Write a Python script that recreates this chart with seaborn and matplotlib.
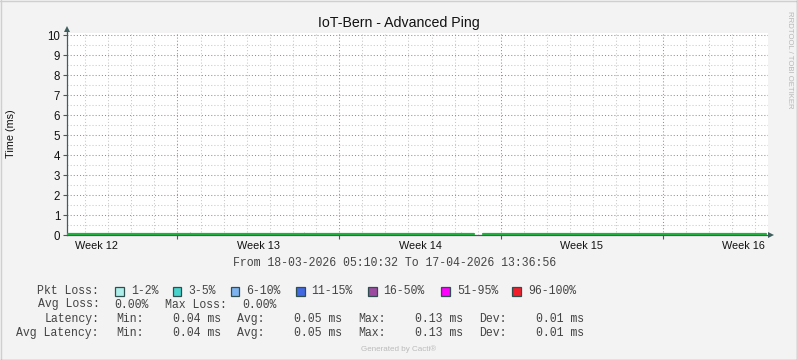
import numpy as np
import pandas as pd
import matplotlib
matplotlib.use("Agg")
import matplotlib.pyplot as plt
import matplotlib.dates as mdates
from matplotlib.patches import Rectangle
from matplotlib.lines import Line2D
from matplotlib.ticker import FixedLocator, NullFormatter
import seaborn as sns

# ---------------- data ----------------
title = "IoT-Bern - Advanced Ping"
range_start = "2026-03-18 05:10:32"
range_end = "2026-04-17 13:36:56"

lat_times = ["2026-03-18 05:10", "2026-04-04 20:30", "2026-04-05 05:00", "2026-04-17 11:25"]
lat_values = [0.05, 0.05, 0.05, 0.05]
lat_segment = [0, 0, 1, 1]

spike_times = ["2026-03-23 13:05", "2026-03-25 22:30", "2026-03-28 11:40", "2026-03-30 17:55",
               "2026-04-02 15:30", "2026-04-04 06:10", "2026-04-15 23:00"]
spike_values = [0.13, 0.12, 0.13, 0.12, 0.12, 0.13, 0.12]

week_label_dates = ["2026-03-19 12:00", "2026-03-26 12:00", "2026-04-02 12:00",
                    "2026-04-09 12:00", "2026-04-16 12:00"]
week_labels = ["Week 12", "Week 13", "Week 14", "Week 15", "Week 16"]

loss_labels = ["1-2%", "3-5%", "6-10%", "11-15%", "16-50%", "51-95%", "96-100%"]
loss_colors = ["#AEEEEA", "#48D4CC", "#7DB4F0", "#4169E1", "#9B4CA0", "#FF00FF", "#F21E2C"]

avg_loss = "0.00%"
max_loss = "0.00%"
lat_stats = ["0.04 ms", "0.05 ms", "0.13 ms", "0.01 ms"]
avglat_stats = ["0.04 ms", "0.05 ms", "0.13 ms", "0.01 ms"]

# ---------------- style ----------------
sns.set_style("white")
plt.rcParams["font.family"] = ["Liberation Sans", "DejaVu Sans"]

W, H = 797, 360
fig = plt.figure(figsize=(W / 100, H / 100), dpi=100)
fig.patch.set_facecolor("#F3F3F3")

ax = fig.add_axes([67 / W, 1 - 235 / H, (768 - 67) / W, (235 - 33) / H])
ax.set_facecolor("white")

axis_col = "#3F5F5F"
df = pd.DataFrame({"time": pd.to_datetime(lat_times), "lat": lat_values, "seg": lat_segment})
sns.lineplot(data=df, x="time", y="lat", units="seg", estimator=None, ax=ax,
             color="#1EAF3C", linewidth=1.6, zorder=5, legend=False)

sp = pd.DataFrame({"time": pd.to_datetime(spike_times), "v": spike_values})
ax.vlines(sp["time"], 0.05, sp["v"], color="#BBBBBB", linewidth=0.8, zorder=4)

t0, t1 = pd.Timestamp(range_start), pd.Timestamp(range_end)
ax.set_xlim(t0, t1)
ax.set_ylim(0, 10.1)

# grid
days = pd.date_range(t0.normalize() + pd.Timedelta(days=1), t1, freq="D")
mondays = [d for d in days if d.weekday() == 0]
others = [d for d in days if d.weekday() != 0]
dot = (0, (1, 2))
for d in others:
    ax.axvline(d, color="#C8C8C8", linewidth=0.75, linestyle=dot, zorder=1)
for d in mondays:
    ax.axvline(d, color="#E27070", linewidth=0.75, linestyle=dot, zorder=2)
for v in np.arange(0.5, 10, 1.0):
    ax.axhline(v, color="#C8C8C8", linewidth=0.75, linestyle=dot, zorder=1)
for v in range(1, 11):
    ax.axhline(v, color="#E27070", linewidth=0.75, linestyle=dot, zorder=2)

# ticks
ax.xaxis.set_major_locator(FixedLocator(mdates.date2num(mondays)))
ax.xaxis.set_major_formatter(NullFormatter())
ax.tick_params(axis="x", which="major", direction="out", length=3, width=0.8,
               color=axis_col, bottom=True)
ax.set_yticks(range(0, 11))
ax.set_yticklabels([str(i) for i in range(0, 11)])
ax.tick_params(axis="y", which="major", direction="out", length=3, width=0.8,
               color=axis_col, left=True, labelsize=8.3, pad=2, labelcolor="#111111")
ax.set_xlabel("")
ax.set_ylabel("")

for d, lab in zip(pd.to_datetime(week_label_dates), week_labels):
    ax.text(d, -0.055, lab, transform=ax.get_xaxis_transform(), ha="center", va="center",
            fontsize=7.8, color="#111111")

for s in ["top", "right"]:
    ax.spines[s].set_visible(False)
for s in ["left", "bottom"]:
    ax.spines[s].set_color(axis_col)
    ax.spines[s].set_linewidth(0.9)

# arrows
ax.plot([0, 0], [1, 1.02], transform=ax.transAxes, color=axis_col, lw=0.9, clip_on=False)
ax.plot([0], [1.022], transform=ax.transAxes, marker="^", markersize=4.5, color=axis_col,
        clip_on=False, markeredgewidth=0)
ax.plot([1, 1.003], [0, 0], transform=ax.transAxes, color=axis_col, lw=0.9, clip_on=False)
ax.plot([1.004], [0], transform=ax.transAxes, marker=">", markersize=4.5, color=axis_col,
        clip_on=False, markeredgewidth=0)

# ---------------- texts ----------------
def ft(x, y, s, **kw):
    fig.text(x / W, 1 - y / H, s, **kw)

ft(399, 22.5, title, ha="center", va="center", fontsize=10.2, color="#111111")
ft(11, 134, "Time (ms)", ha="center", va="center", rotation=90, fontsize=7.8, color="#111111")
ft(789, 60, "RRDTOOL / TOBI OETIKER", ha="center", va="center", rotation=270,
   fontsize=5.6, color="#B8B8B8")
ft(398.5, 349, "Generated by Cacti\u00ae", ha="center", va="center", fontsize=5.8, color="#BBBBBB")

mono = dict(family=["Liberation Mono", "DejaVu Sans Mono"], fontsize=8.3, color="#444444",
            va="center", ha="left")
ft(233, 263, f"From {t0.strftime('%d-%m-%Y %H:%M:%S')} To {t1.strftime('%d-%m-%Y %H:%M:%S')}", **mono)

# Row 1: packet loss legend
ft(37, 291.5, "Pkt Loss:", **mono)
box_x = [115.3, 172.7, 230.7, 296, 368, 441.3, 512.3]
for bx, col, lab in zip(box_x, loss_colors, loss_labels):
    fig.add_artist(Rectangle((bx / W, 1 - 296 / H), 8.7 / W, 8.7 / H, transform=fig.transFigure,
                             facecolor=col, edgecolor="#2F4F4F", linewidth=0.9))
    ft(bx + 15.5, 291.5, lab, **mono)

# Row 2
ft(37.5, 304.5, "Avg Loss:", **mono)
ft(114.7, 304.5, avg_loss, **mono)
ft(165.3, 304.5, "Max Loss:", **mono)
ft(242.7, 304.5, max_loss, **mono)

# Rows 3-4
stat_names = ["Min:", "Avg:", "Max:", "Dev:"]
name_x = [116, 237, 358, 479]
val_x = [172.7, 294, 415, 536]
for yy, head, hx, vals in [(318.7, "Latency:", 44.3, lat_stats), (332.7, "Avg Latency:", 16, avglat_stats)]:
    ft(hx, yy, head, **mono)
    for nm, nx, v, vx in zip(stat_names, name_x, vals, val_x):
        ft(nx, yy, nm, **mono)
        ft(vx, yy, v, **mono)

# figure border
fig.add_artist(Line2D([0, 1], [1 - 0.5 / H, 1 - 0.5 / H], transform=fig.transFigure, color="#CFCFCF", lw=1))
fig.add_artist(Line2D([0.5 / W, 0.5 / W], [0, 1], transform=fig.transFigure, color="#CFCFCF", lw=1))
fig.add_artist(Line2D([0, 1], [0.5 / H, 0.5 / H], transform=fig.transFigure, color="#9A9A9A", lw=1))
fig.add_artist(Line2D([1 - 0.5 / W, 1 - 0.5 / W], [0, 1], transform=fig.transFigure, color="#9A9A9A", lw=1))

fig.savefig("out.png", dpi=100, facecolor=fig.get_facecolor())
